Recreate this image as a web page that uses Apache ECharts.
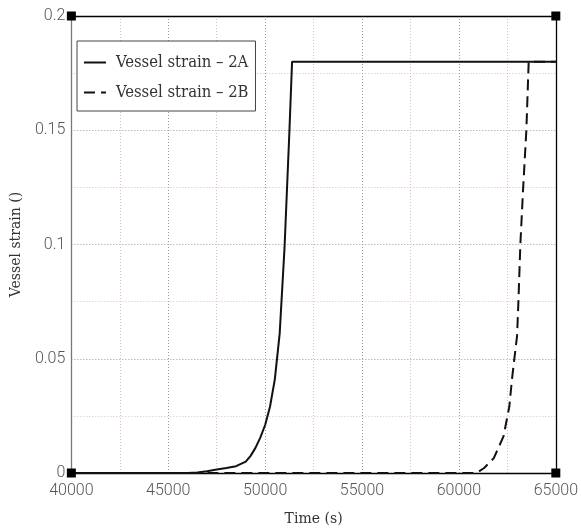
<!DOCTYPE html>
<html>
<head>
<meta charset="utf-8">
<script src="https://cdn.jsdelivr.net/npm/echarts@6/dist/echarts.min.js"></script>
<style>
  html, body { margin: 0; padding: 0; background: #fff; }
  #chart { width: 581px; height: 532px; }
</style>
</head>
<body>
<div id="chart"></div>
<script>
// Vessel strain over time for the two vessels
const timeA   = [40000, 46000, 46500, 47000, 47500, 48000, 48500, 49000, 49250, 49500, 49750, 50000, 50250, 50500, 50750, 51000, 51250, 51390, 65000];
const strainA = [0, 0, 0.0002, 0.0008, 0.0015, 0.0022, 0.003, 0.005, 0.0075, 0.011, 0.0155, 0.021, 0.029, 0.041, 0.061, 0.0985, 0.149, 0.18, 0.18];

const timeB   = [40000, 60800, 61000, 61300, 61800, 62300, 62600, 62750, 63000, 63070, 63170, 63310, 63480, 63600, 65000];
const strainB = [0, 0, 0.0005, 0.0022, 0.0065, 0.016, 0.029, 0.042, 0.060, 0.075, 0.100, 0.124, 0.150, 0.18, 0.18];

const seriesNames = ['Vessel strain \u2013 2A', 'Vessel strain \u2013 2B'];

// Axis ranges and the corner markers of the plot frame
const xMin = 40000, xMax = 65000, xStep = 5000;
const yMin = 0, yMax = 0.2, yStep = 0.05;
const cornerX = [xMin, xMin, xMax, xMax];
const cornerY = [yMin, yMax, yMin, yMax];

const pair = (xs, ys) => xs.map((x, i) => [x, ys[i]]);

const labelFont = { fontFamily: 'Roboto', fontWeight: 300, fontSize: 16, color: '#555' };
const titleFont = { fontFamily: 'DejaVu Serif Condensed, DejaVu Serif', fontSize: 15.6, color: '#333' };
const legendFont = { fontFamily: 'DejaVu Serif Condensed, DejaVu Serif', fontSize: 16.5, color: '#333' };

const majorGrid = { show: true, lineStyle: { color: '#9a9a9a', type: [1, 2], width: 1 } };
const minorGrid = { show: true, lineStyle: { color: '#e6b8c2', type: [1, 2], width: 1 } };

const chart = echarts.init(document.getElementById('chart'), null, { renderer: 'canvas' });

chart.setOption({
  animation: false,
  backgroundColor: '#fff',
  grid: { left: 71, right: 22, top: 16, bottom: 57, containLabel: false },
  legend: {
    orient: 'vertical',
    left: 77, top: 41,
    padding: [13, 7, 10, 6],
    itemGap: 13,
    itemWidth: 22, itemHeight: 14,
    borderColor: '#444', borderWidth: 1, borderRadius: 0,
    backgroundColor: '#fff',
    itemStyle: { opacity: 0 },
    textStyle: Object.assign({ padding: [0, 0, 0, 5] }, legendFont),
    data: seriesNames
  },
  xAxis: [{
    type: 'value', min: xMin, max: xMax, interval: xStep,
    name: 'Time (s)', nameLocation: 'middle', nameGap: 38,
    nameTextStyle: titleFont,
    axisLine: { show: true, onZero: false, lineStyle: { color: '#000', width: 1.3 } },
    axisTick: { show: false },
    axisLabel: Object.assign({ margin: 10, formatter: v => String(v) }, labelFont),
    splitLine: majorGrid,
    minorTick: { show: false, splitNumber: 2 },
    minorSplitLine: minorGrid
  }, {
    type: 'value', min: xMin, max: xMax, position: 'top',
    axisLine: { show: true, onZero: false, lineStyle: { color: '#000', width: 1.3 } },
    axisTick: { show: false }, axisLabel: { show: false }, splitLine: { show: false }
  }],
  yAxis: [{
    type: 'value', min: yMin, max: yMax, interval: yStep,
    name: 'Vessel strain ()', nameLocation: 'middle', nameGap: 39,
    nameTextStyle: titleFont,
    axisLine: { show: true, onZero: false, lineStyle: { color: '#777', width: 1.3 } },
    axisTick: { show: false },
    axisLabel: Object.assign({ margin: 6, formatter: v => String(Math.round(v * 100) / 100) }, labelFont),
    splitLine: majorGrid,
    minorTick: { show: false, splitNumber: 2 },
    minorSplitLine: minorGrid
  }, {
    type: 'value', min: yMin, max: yMax, position: 'right',
    axisLine: { show: true, onZero: false, lineStyle: { color: '#000', width: 1.3 } },
    axisTick: { show: false }, axisLabel: { show: false }, splitLine: { show: false }
  }],
  series: [{
    name: seriesNames[0],
    type: 'line',
    data: pair(timeA, strainA),
    showSymbol: false, symbol: 'none',
    lineStyle: { color: '#111', width: 2 },
    itemStyle: { color: '#111' },
    z: 3
  }, {
    name: seriesNames[1],
    type: 'line',
    data: pair(timeB, strainB),
    showSymbol: false, symbol: 'none',
    lineStyle: { color: '#111', width: 2, type: [11, 6] },
    itemStyle: { color: '#111' },
    z: 4
  }, {
    name: 'corners',
    type: 'scatter',
    data: pair(cornerX, cornerY),
    symbol: 'rect', symbolSize: 9,
    itemStyle: { color: '#000', opacity: 1 },
    clip: false, silent: true,
    z: 10
  }]
});
</script>
</body>
</html>
